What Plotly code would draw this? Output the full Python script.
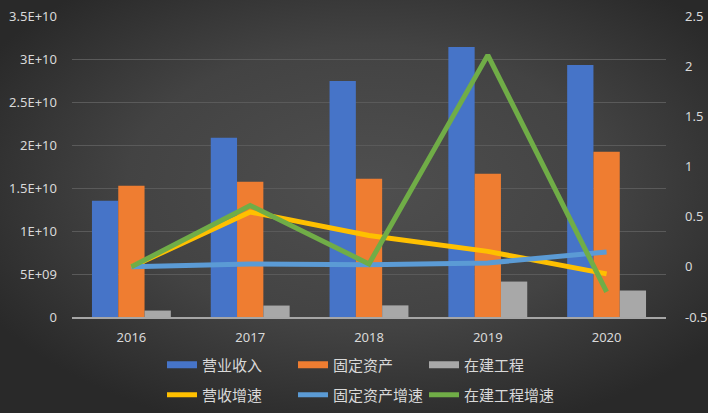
import base64
import plotly.graph_objects as go

years = ["2016", "2017", "2018", "2019", "2020"]
revenue = [1.352e10, 2.084e10, 2.745e10, 3.14e10, 2.93e10]
fixed_assets = [1.527e10, 1.573e10, 1.608e10, 1.666e10, 1.921e10]
construction = [7.5e8, 1.33e9, 1.35e9, 4.12e9, 3.08e9]
revenue_growth = [0, 0.546, 0.313, 0.154, -0.07]
fixed_growth = [0, 0.029, 0.022, 0.039, 0.148]
construction_growth = [0, 0.612, 0.029, 2.11, -0.25]

left_tickvals = [0, 5e9, 1e10, 1.5e10, 2e10, 2.5e10, 3e10, 3.5e10]
left_ticktext = ["0", "5E+09", "1E+10", "1.5E+10", "2E+10", "2.5E+10", "3E+10", "3.5E+10"]
right_tickvals = [-0.5, 0, 0.5, 1, 1.5, 2, 2.5]
right_ticktext = ["-0.5", "0", "0.5", "1", "1.5", "2", "2.5"]

bar_names = ["营业收入", "固定资产", "在建工程"]
line_names = ["营收增速", "固定资产增速", "在建工程增速"]
bar_colors = ["#4674C8", "#EF7D31", "#A8A8A8"]
line_colors = ["#FFC000", "#5B9BD5", "#70AD47"]

W, H = 708, 413
ml, mr, mt, mb = 72, 42, 16, 96
pw, ph = W - ml - mr, H - mt - mb

svg = f'''<svg xmlns="http://www.w3.org/2000/svg" width="{W}" height="{H}">
<defs><radialGradient id="g" cx="52%" cy="45%" r="62%">
<stop offset="0%" stop-color="#4f4f4f"/><stop offset="55%" stop-color="#434343"/>
<stop offset="100%" stop-color="#292929"/></radialGradient></defs>
<rect width="{W}" height="{H}" fill="url(#g)"/></svg>'''
bg_uri = "data:image/svg+xml;base64," + base64.b64encode(svg.encode()).decode()

fig = go.Figure()
font_family = "Noto Sans CJK SC, Noto Sans, sans-serif"
num_font = "Noto Sans, sans-serif"

for name, vals, col in zip(bar_names, [revenue, fixed_assets, construction], bar_colors):
    fig.add_trace(go.Bar(x=years, y=vals, name=name, marker=dict(color=col, line=dict(width=0)),
                         showlegend=False, yaxis="y"))

for name, vals, col in zip(line_names, [revenue_growth, fixed_growth, construction_growth], line_colors):
    fig.add_trace(go.Scatter(x=years, y=vals, name=name, mode="lines",
                             line=dict(color=col, width=5), yaxis="y2",
                             showlegend=True, legend="legend2"))

# legend entries for bars (drawn as thick swatches like the reference)
for name, col in zip(bar_names, bar_colors):
    fig.add_trace(go.Scatter(x=[None], y=[None], name=name, mode="lines",
                             line=dict(color=col, width=7), showlegend=True, legend="legend"))

legend_common = dict(orientation="h", xref="paper", yref="paper",
                     xanchor="left", yanchor="middle", entrywidth=86,
                     font=dict(family=font_family, size=15, color="#d9d9d9"),
                     bgcolor="rgba(0,0,0,0)", itemclick=False, tracegroupgap=0)

tick_font = dict(family=num_font, size=13, color="#d9d9d9")

def px_x(p):
    return (p - ml) / pw

def px_y(p):
    return (H - mb - p) / ph

fig.update_layout(
    width=W, height=H,
    margin=dict(l=ml, r=mr, t=mt, b=mb, autoexpand=False),
    paper_bgcolor="#333333",
    plot_bgcolor="rgba(0,0,0,0)",
    barmode="group", bargap=0.336, bargroupgap=0,
    font=dict(family=font_family, color="#d9d9d9", size=12),
    images=[dict(source=bg_uri, xref="paper", yref="paper",
                 x=-ml / pw, y=1 + mt / ph, sizex=W / pw, sizey=H / ph,
                 xanchor="left", yanchor="top", sizing="stretch", layer="below")],
    xaxis=dict(type="category", showgrid=False, showline=True, linecolor="#a6a6a6", linewidth=2,
               ticks="", tickfont=tick_font, ticklabelstandoff=7,
               zeroline=False, automargin=False),
    yaxis=dict(range=[0, 3.5e10], tickvals=left_tickvals, ticktext=left_ticktext,
               showgrid=True, gridcolor="#5a5a5a", gridwidth=1, zeroline=False,
               showline=False, ticks="", ticklabelstandoff=14, tickfont=tick_font,
               automargin=False),
    yaxis2=dict(range=[-0.5, 2.5], tickvals=right_tickvals, ticktext=right_ticktext,
                overlaying="y", side="right", showgrid=False, zeroline=False,
                showline=False, ticks="", ticklabelstandoff=18, tickfont=tick_font,
                automargin=False),
    legend=dict(x=px_x(162), y=px_y(365), **legend_common),
    legend2=dict(x=px_x(162), y=px_y(395), **legend_common),
    showlegend=True,
)

fig.write_html("out.html", config={"displayModeBar": False},
               post_script="document.body.style.margin='0';document.body.style.overflow='hidden';")
